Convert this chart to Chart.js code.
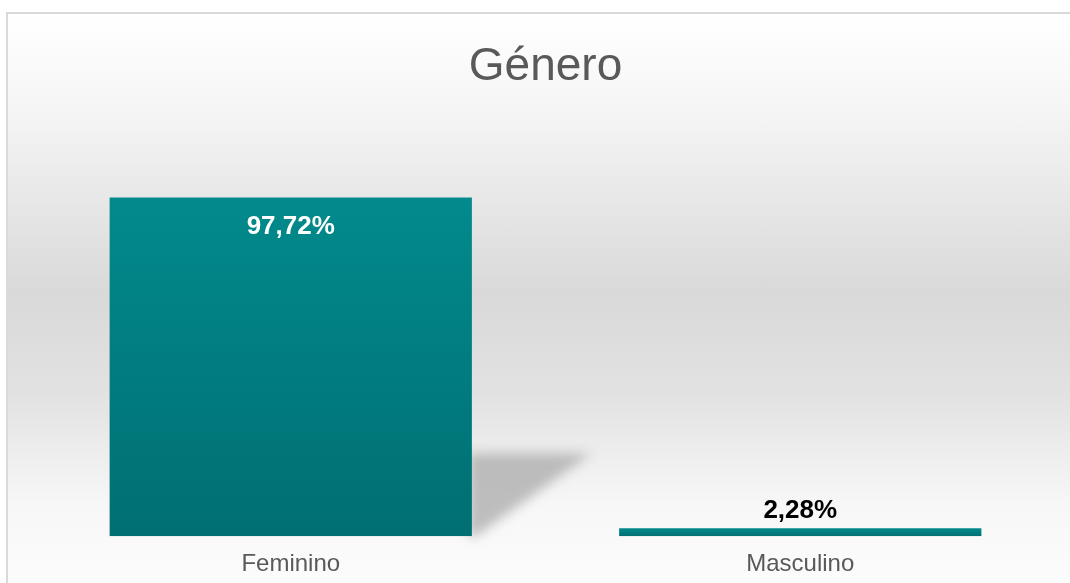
<!DOCTYPE html>
<html>
<head>
<meta charset="utf-8">
<title>Género</title>
<script src="https://cdn.jsdelivr.net/npm/chart.js"></script>
<style>
html, body { margin: 0; padding: 0; overflow: hidden; background: #ffffff; }
#frame {
  position: absolute; left: 6px; top: 12px;
  width: 1080px; height: 600px;
  border: 2px solid #d9d9d9;
  background: linear-gradient(to bottom, #ffffff 0px, #f6f6f6 90px, #d9d9d9 280px, #e2e2e2 380px, #f7f7f7 490px, #fcfcfc 571px);
}
#box { position: absolute; left: 0; top: 0; width: 1062px; height: 579px; }
</style>
</head>
<body>
<div id="frame">
  <div id="box"><canvas id="myChart"></canvas></div>
</div>
<script>
// data
var categorias = ["Feminino", "Masculino"];
var valores = [97.72, 2.28];
var rotulos = ["97,72%", "2,28%"];

var fonte = "'Liberation Sans', Arial, sans-serif";

// gradient per bar, from the y scale
function corBarra(ctx) {
  var chart = ctx.chart;
  var y = chart.scales.y;
  if (!chart.chartArea || !y || ctx.dataIndex === undefined) return "#007d80";
  var v = valores[ctx.dataIndex];
  var top = y.getPixelForValue(v);
  var base = y.getPixelForValue(0);
  if (!isFinite(top) || !isFinite(base) || base - top < 1) return "#007d80";
  var g = chart.ctx.createLinearGradient(0, top, 0, base);
  g.addColorStop(0, "#028a8c");
  g.addColorStop(1, "#006f73");
  return g;
}

// perspective shadow behind the first bar
var sombra = {
  id: "sombra",
  beforeDatasetsDraw: function(chart) {
    var meta = chart.getDatasetMeta(0);
    var bar = meta.data[0];
    if (!bar) return;
    var p = bar.getProps(["x", "y", "base", "width"], true);
    var right = p.x + p.width / 2;
    var h = p.base - p.y;
    var ctx = chart.ctx;
    ctx.save();
    ctx.filter = "blur(6px)";
    ctx.fillStyle = "rgba(170,170,170,0.75)";
    ctx.beginPath();
    ctx.moveTo(right - 4, p.base - h * 0.245);
    ctx.lineTo(right + p.width * 0.33, p.base - h * 0.245);
    ctx.lineTo(right + 4, p.base);
    ctx.lineTo(right - 4, p.base);
    ctx.closePath();
    ctx.fill();
    ctx.restore();
  }
};

// value labels
var rotulosPlugin = {
  id: "rotulos",
  afterDatasetsDraw: function(chart) {
    var ctx = chart.ctx;
    var meta = chart.getDatasetMeta(0);
    ctx.save();
    ctx.font = "bold 26px " + fonte;
    ctx.textAlign = "center";
    ctx.textBaseline = "middle";
    meta.data.forEach(function(bar, i) {
      var p = bar.getProps(["x", "y", "base"], true);
      if (p.base - p.y > 60) {
        ctx.fillStyle = "#ffffff";
        ctx.fillText(rotulos[i], p.x, p.y + 29);
      } else {
        ctx.fillStyle = "#000000";
        ctx.fillText(rotulos[i], p.x, p.y - 17);
      }
    });
    ctx.restore();
  }
};

var config = {
  type: "bar",
  data: {
    labels: categorias,
    datasets: [{
      label: "Género",
      data: valores,
      backgroundColor: corBarra,
      borderWidth: 0,
      categoryPercentage: 1,
      barPercentage: 0.711
    }]
  },
  options: {
    responsive: true,
    maintainAspectRatio: false,
    animation: false,
    layout: { padding: { left: 28, right: 15, top: 0, bottom: 0 } },
    plugins: {
      legend: { display: false },
      tooltip: { enabled: false },
      title: {
        display: true,
        text: "Género",
        color: "#595959",
        font: { family: fonte, size: 46, weight: "normal" },
        padding: { top: 26, bottom: 25 }
      }
    },
    scales: {
      x: {
        grid: { display: false, drawTicks: false },
        border: { display: false },
        ticks: {
          color: "#595959",
          font: { family: fonte, size: 24 },
          padding: 14
        }
      },
      y: {
        display: false,
        min: 0,
        max: 120
      }
    }
  },
  plugins: [sombra, rotulosPlugin]
};

var myChart = new Chart(document.getElementById("myChart"), config);
</script>
</body>
</html>
